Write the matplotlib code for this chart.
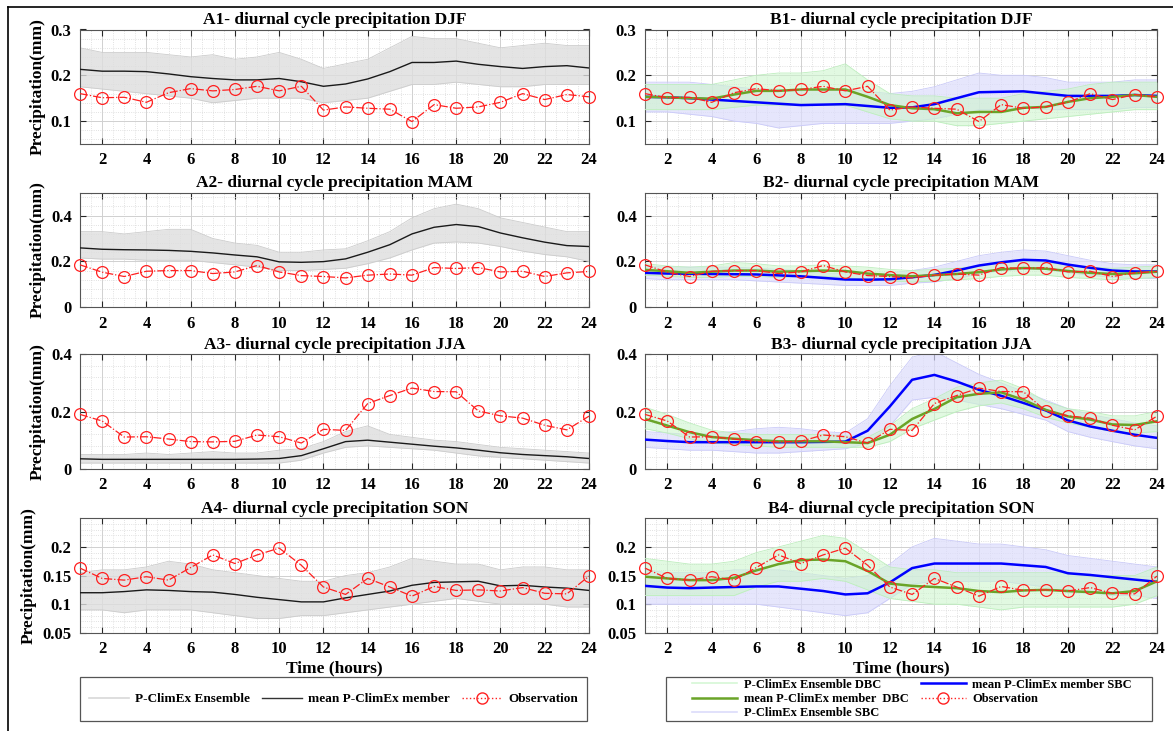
import numpy as np
import matplotlib
matplotlib.use("Agg")
import matplotlib.pyplot as plt
from matplotlib.lines import Line2D
from matplotlib.patches import Rectangle
from matplotlib.ticker import AutoMinorLocator, FuncFormatter

hours = list(range(1, 25))
seasons = ["DJF", "MAM", "JJA", "SON"]

# observation (same in A and B panels)
obs_djf = [0.160, 0.151, 0.152, 0.141, 0.162, 0.171, 0.166, 0.169, 0.176, 0.166, 0.176, 0.124,
           0.131, 0.128, 0.126, 0.099, 0.136, 0.128, 0.131, 0.141, 0.160, 0.147, 0.158, 0.153]
obs_mam = [0.185, 0.153, 0.134, 0.157, 0.160, 0.160, 0.147, 0.154, 0.182, 0.154, 0.138, 0.134,
           0.128, 0.140, 0.145, 0.140, 0.173, 0.169, 0.173, 0.154, 0.157, 0.134, 0.150, 0.156]
obs_jja = [0.190, 0.167, 0.111, 0.112, 0.104, 0.095, 0.094, 0.096, 0.118, 0.112, 0.090, 0.138,
           0.134, 0.228, 0.256, 0.282, 0.270, 0.269, 0.202, 0.185, 0.177, 0.152, 0.136, 0.184]
obs_son = [0.163, 0.145, 0.142, 0.148, 0.142, 0.164, 0.186, 0.171, 0.186, 0.198, 0.168, 0.130,
           0.117, 0.145, 0.130, 0.114, 0.131, 0.124, 0.125, 0.123, 0.129, 0.119, 0.118, 0.149]

# raw ensemble mean (A panels)
mean_djf = [0.213, 0.209, 0.209, 0.208, 0.203, 0.197, 0.193, 0.190, 0.190, 0.193, 0.186, 0.176,
            0.181, 0.192, 0.208, 0.228, 0.228, 0.231, 0.224, 0.219, 0.215, 0.219, 0.221, 0.216]
mean_mam = [0.259, 0.253, 0.251, 0.250, 0.248, 0.244, 0.237, 0.228, 0.220, 0.198, 0.196, 0.199,
            0.211, 0.240, 0.273, 0.320, 0.349, 0.361, 0.352, 0.324, 0.303, 0.284, 0.269, 0.265]
mean_jja = [0.035, 0.033, 0.033, 0.033, 0.033, 0.033, 0.033, 0.033, 0.034, 0.036, 0.046, 0.070,
            0.095, 0.100, 0.093, 0.086, 0.079, 0.073, 0.065, 0.056, 0.050, 0.046, 0.042, 0.036]
mean_son = [0.120, 0.120, 0.122, 0.125, 0.124, 0.122, 0.121, 0.117, 0.112, 0.108, 0.104, 0.104,
            0.111, 0.117, 0.123, 0.133, 0.138, 0.139, 0.140, 0.132, 0.133, 0.130, 0.128, 0.124]

# raw ensemble spread (A panels)
ens_lo_djf = [0.175, 0.170, 0.165, 0.160, 0.155, 0.150, 0.140, 0.145, 0.150, 0.150, 0.150, 0.140,
              0.145, 0.150, 0.165, 0.180, 0.180, 0.185, 0.180, 0.175, 0.175, 0.180, 0.180, 0.180]
ens_hi_djf = [0.260, 0.250, 0.250, 0.250, 0.245, 0.240, 0.245, 0.235, 0.240, 0.250, 0.235, 0.215,
              0.225, 0.235, 0.260, 0.285, 0.280, 0.280, 0.270, 0.260, 0.265, 0.270, 0.265, 0.265]
ens_lo_mam = [0.215, 0.210, 0.210, 0.205, 0.205, 0.205, 0.195, 0.185, 0.175, 0.160, 0.160, 0.165,
              0.170, 0.190, 0.215, 0.250, 0.280, 0.285, 0.280, 0.265, 0.245, 0.230, 0.220, 0.200]
ens_hi_mam = [0.330, 0.330, 0.320, 0.330, 0.340, 0.340, 0.300, 0.280, 0.270, 0.240, 0.240, 0.250,
              0.255, 0.290, 0.330, 0.390, 0.430, 0.450, 0.430, 0.390, 0.370, 0.350, 0.330, 0.330]
ens_lo_jja = [0.020, 0.020, 0.020, 0.020, 0.020, 0.020, 0.020, 0.020, 0.020, 0.020, 0.030, 0.055,
              0.075, 0.080, 0.075, 0.070, 0.065, 0.055, 0.045, 0.040, 0.035, 0.030, 0.025, 0.020]
ens_hi_jja = [0.050, 0.050, 0.050, 0.055, 0.050, 0.055, 0.060, 0.055, 0.055, 0.065, 0.070, 0.095,
              0.130, 0.150, 0.120, 0.110, 0.100, 0.095, 0.085, 0.075, 0.070, 0.065, 0.060, 0.055]
ens_lo_son = [0.090, 0.090, 0.085, 0.090, 0.090, 0.090, 0.085, 0.080, 0.075, 0.075, 0.080, 0.080,
              0.085, 0.090, 0.095, 0.100, 0.105, 0.110, 0.105, 0.100, 0.100, 0.100, 0.095, 0.095]
ens_hi_son = [0.155, 0.160, 0.160, 0.165, 0.175, 0.170, 0.160, 0.155, 0.150, 0.145, 0.140, 0.140,
              0.150, 0.155, 0.165, 0.180, 0.175, 0.170, 0.170, 0.160, 0.165, 0.165, 0.160, 0.160]

# DBC mean / spread (B panels, green)
dbc_djf = [0.153, 0.152, 0.150, 0.149, 0.158, 0.166, 0.166, 0.169, 0.169, 0.169, 0.153, 0.135,
           0.128, 0.126, 0.117, 0.120, 0.120, 0.129, 0.131, 0.142, 0.150, 0.153, 0.157, 0.153]
dbc_mam = [0.163, 0.157, 0.150, 0.155, 0.160, 0.160, 0.155, 0.157, 0.160, 0.158, 0.147, 0.140,
           0.135, 0.140, 0.145, 0.153, 0.165, 0.171, 0.168, 0.158, 0.150, 0.145, 0.148, 0.155]
dbc_jja = [0.174, 0.151, 0.128, 0.111, 0.105, 0.100, 0.096, 0.096, 0.096, 0.093, 0.090, 0.119,
           0.174, 0.209, 0.250, 0.262, 0.267, 0.241, 0.206, 0.183, 0.172, 0.155, 0.153, 0.166]
dbc_son = [0.148, 0.145, 0.142, 0.142, 0.146, 0.159, 0.170, 0.177, 0.178, 0.175, 0.158, 0.136,
           0.132, 0.130, 0.128, 0.123, 0.121, 0.124, 0.125, 0.123, 0.121, 0.119, 0.123, 0.140]
dbc_lo_djf = [0.125, 0.125, 0.125, 0.125, 0.130, 0.135, 0.135, 0.135, 0.135, 0.135, 0.120, 0.105,
              0.100, 0.100, 0.090, 0.090, 0.095, 0.100, 0.105, 0.110, 0.115, 0.120, 0.125, 0.125]
dbc_hi_djf = [0.180, 0.180, 0.180, 0.180, 0.190, 0.200, 0.205, 0.205, 0.210, 0.225, 0.190, 0.160,
              0.155, 0.155, 0.150, 0.150, 0.150, 0.160, 0.165, 0.170, 0.180, 0.185, 0.185, 0.185]
dbc_lo_mam = [0.140, 0.135, 0.130, 0.130, 0.135, 0.135, 0.130, 0.135, 0.135, 0.130, 0.120, 0.115,
              0.110, 0.115, 0.120, 0.125, 0.135, 0.140, 0.140, 0.130, 0.125, 0.120, 0.125, 0.130]
dbc_hi_mam = [0.190, 0.180, 0.175, 0.180, 0.195, 0.190, 0.180, 0.180, 0.185, 0.180, 0.175, 0.165,
              0.160, 0.165, 0.170, 0.180, 0.195, 0.200, 0.195, 0.185, 0.175, 0.170, 0.175, 0.180]
dbc_lo_jja = [0.140, 0.125, 0.105, 0.090, 0.085, 0.080, 0.075, 0.075, 0.075, 0.075, 0.075, 0.095,
              0.140, 0.170, 0.200, 0.220, 0.230, 0.210, 0.180, 0.160, 0.145, 0.130, 0.125, 0.130]
dbc_hi_jja = [0.215, 0.190, 0.160, 0.135, 0.125, 0.120, 0.120, 0.120, 0.120, 0.115, 0.110, 0.150,
              0.210, 0.245, 0.285, 0.300, 0.310, 0.280, 0.235, 0.210, 0.200, 0.185, 0.185, 0.200]
dbc_lo_son = [0.115, 0.115, 0.115, 0.115, 0.115, 0.130, 0.140, 0.140, 0.145, 0.140, 0.125, 0.110,
              0.105, 0.100, 0.100, 0.095, 0.090, 0.095, 0.095, 0.095, 0.095, 0.095, 0.100, 0.115]
dbc_hi_son = [0.180, 0.175, 0.170, 0.170, 0.175, 0.190, 0.200, 0.210, 0.220, 0.215, 0.190, 0.165,
              0.160, 0.160, 0.155, 0.155, 0.155, 0.155, 0.155, 0.155, 0.150, 0.150, 0.150, 0.165]

# SBC mean / spread (B panels, blue)
sbc_djf = [0.153, 0.152, 0.150, 0.147, 0.144, 0.141, 0.138, 0.135, 0.136, 0.137, 0.133, 0.129,
           0.130, 0.137, 0.150, 0.163, 0.164, 0.165, 0.160, 0.155, 0.155, 0.155, 0.157, 0.155]
sbc_mam = [0.150, 0.147, 0.146, 0.145, 0.144, 0.143, 0.139, 0.135, 0.128, 0.121, 0.120, 0.122,
           0.131, 0.141, 0.160, 0.182, 0.196, 0.207, 0.204, 0.186, 0.172, 0.160, 0.156, 0.156]
sbc_jja = [0.102, 0.097, 0.093, 0.093, 0.093, 0.093, 0.093, 0.093, 0.094, 0.095, 0.133, 0.218,
           0.311, 0.328, 0.305, 0.276, 0.255, 0.230, 0.204, 0.169, 0.148, 0.133, 0.119, 0.108]
sbc_son = [0.132, 0.129, 0.128, 0.129, 0.130, 0.131, 0.131, 0.127, 0.123, 0.117, 0.119, 0.138,
           0.163, 0.171, 0.171, 0.171, 0.171, 0.168, 0.165, 0.154, 0.151, 0.147, 0.143, 0.139]
sbc_lo_djf = [0.120, 0.120, 0.115, 0.110, 0.100, 0.095, 0.085, 0.090, 0.095, 0.095, 0.095, 0.095,
              0.100, 0.105, 0.115, 0.125, 0.125, 0.130, 0.125, 0.125, 0.125, 0.125, 0.130, 0.130]
sbc_hi_djf = [0.185, 0.185, 0.185, 0.180, 0.175, 0.170, 0.170, 0.165, 0.170, 0.170, 0.165, 0.160,
              0.165, 0.175, 0.190, 0.205, 0.200, 0.200, 0.195, 0.185, 0.185, 0.185, 0.190, 0.190]
sbc_lo_mam = [0.125, 0.120, 0.120, 0.120, 0.120, 0.115, 0.110, 0.105, 0.100, 0.095, 0.095, 0.095,
              0.105, 0.110, 0.125, 0.145, 0.160, 0.165, 0.165, 0.150, 0.140, 0.130, 0.125, 0.125]
sbc_hi_mam = [0.180, 0.175, 0.175, 0.175, 0.175, 0.170, 0.165, 0.160, 0.150, 0.145, 0.145, 0.150,
              0.160, 0.175, 0.200, 0.225, 0.240, 0.250, 0.245, 0.225, 0.205, 0.190, 0.185, 0.185]
sbc_lo_jja = [0.075, 0.070, 0.065, 0.065, 0.060, 0.055, 0.055, 0.060, 0.065, 0.070, 0.090, 0.150,
              0.240, 0.250, 0.240, 0.225, 0.210, 0.190, 0.170, 0.130, 0.110, 0.095, 0.080, 0.070]
sbc_hi_jja = [0.130, 0.125, 0.120, 0.125, 0.130, 0.140, 0.145, 0.140, 0.130, 0.125, 0.175, 0.290,
              0.390, 0.410, 0.370, 0.330, 0.300, 0.270, 0.240, 0.210, 0.190, 0.175, 0.160, 0.150]
sbc_lo_son = [0.100, 0.100, 0.100, 0.100, 0.100, 0.100, 0.095, 0.090, 0.085, 0.080, 0.085, 0.110,
              0.135, 0.140, 0.140, 0.140, 0.140, 0.135, 0.130, 0.120, 0.120, 0.115, 0.115, 0.110]
sbc_hi_son = [0.160, 0.155, 0.155, 0.155, 0.160, 0.160, 0.160, 0.155, 0.150, 0.145, 0.150, 0.170,
              0.200, 0.215, 0.210, 0.205, 0.205, 0.200, 0.195, 0.185, 0.180, 0.175, 0.170, 0.165]

ylims = [(0.05, 0.3), (0, 0.5), (0, 0.4), (0.05, 0.25)]
yticks = [[0.1, 0.2, 0.3], [0, 0.2, 0.4], [0, 0.2, 0.4], [0.05, 0.1, 0.15, 0.2]]

obs_all = [obs_djf, obs_mam, obs_jja, obs_son]
mean_all = [mean_djf, mean_mam, mean_jja, mean_son]
ens_lo = [ens_lo_djf, ens_lo_mam, ens_lo_jja, ens_lo_son]
ens_hi = [ens_hi_djf, ens_hi_mam, ens_hi_jja, ens_hi_son]
dbc_all = [dbc_djf, dbc_mam, dbc_jja, dbc_son]
dbc_lo = [dbc_lo_djf, dbc_lo_mam, dbc_lo_jja, dbc_lo_son]
dbc_hi = [dbc_hi_djf, dbc_hi_mam, dbc_hi_jja, dbc_hi_son]
sbc_all = [sbc_djf, sbc_mam, sbc_jja, sbc_son]
sbc_lo = [sbc_lo_djf, sbc_lo_mam, sbc_lo_jja, sbc_lo_son]
sbc_hi = [sbc_hi_djf, sbc_hi_mam, sbc_hi_jja, sbc_hi_son]

plt.rcParams["font.family"] = ["Liberation Serif", "DejaVu Serif"]
plt.rcParams["font.weight"] = "bold"

W, H = 1173, 731
fig = plt.figure(figsize=(W / 100, H / 100), dpi=100)

GRAY = "#dedede"
GREEN_ENS = "#cdf5cd"
BLUE_ENS = "#dcdcfc"
GREEN = "#6aa428"
OBS = "#ff2020"

tops = [29.5, 192.7, 354.3, 518.3]
ph = 114.5


def style_axis(ax, i):
    ax.set_xlim(1, 24)
    ax.set_ylim(*ylims[i])
    ax.set_xticks(range(2, 25, 2))
    ax.set_yticks(yticks[i])
    ax.yaxis.set_major_formatter(FuncFormatter(lambda v, p: f"{v:g}"))
    ax.xaxis.set_minor_locator(AutoMinorLocator(4))
    ax.yaxis.set_minor_locator(AutoMinorLocator(5))
    ax.grid(which="major", color="#d0d0d0", lw=0.7)
    ax.grid(which="minor", color="#d8d8d8", lw=0.6, ls=":")
    ax.set_axisbelow(True)
    ax.tick_params(which="both", direction="in", top=True, right=True, labelsize=12,
                   colors="#262626", labelcolor="black", pad=6)
    ax.tick_params(which="major", length=4)
    ax.tick_params(which="minor", length=0)
    for s in ax.spines.values():
        s.set_color("#555555")
        s.set_linewidth(0.8)
    for lab in ax.get_xticklabels() + ax.get_yticklabels():
        lab.set_fontweight("bold")


def obs_line(ax, i):
    ax.plot(hours, obs_all[i], color=OBS, ls="-.", lw=0.9, marker="o", ms=8.5,
            mfc="none", mec=OBS, mew=0.9, clip_on=False, zorder=6)


for i, season in enumerate(seasons):
    bottom = 1 - (tops[i] + ph) / H

    # left column: raw ensemble
    ax = fig.add_axes([80 / W, bottom, 509 / W, ph / H])
    ax.fill_between(hours, ens_lo[i], ens_hi[i], color=GRAY, alpha=0.8, lw=0, zorder=2)
    ax.plot(hours, ens_lo[i], color="#cccccc", lw=0.6, zorder=2)
    ax.plot(hours, ens_hi[i], color="#cccccc", lw=0.6, zorder=2)
    ax.plot(hours, mean_all[i], color="#1a1a1a", lw=1.0, zorder=4)
    obs_line(ax, i)
    style_axis(ax, i)
    ax.set_title(f"A{i + 1}- diurnal cycle precipitation {season}", fontsize=12.5,
                 fontweight="bold", pad=4)
    ax.set_ylabel("Precipitation(mm)", fontsize=12.5, fontweight="bold", labelpad=4)
    if i == 3:
        ax.set_xlabel("Time (hours)", fontsize=12.5, fontweight="bold", labelpad=2)

    # right column: bias corrected ensembles
    bx = fig.add_axes([645 / W, bottom, 512 / W, ph / H])
    bx.fill_between(hours, sbc_lo[i], sbc_hi[i], color=BLUE_ENS, alpha=0.7, lw=0, zorder=2)
    bx.plot(hours, sbc_lo[i], color="#cacaf8", lw=0.6, zorder=2)
    bx.plot(hours, sbc_hi[i], color="#cacaf8", lw=0.6, zorder=2)
    bx.fill_between(hours, dbc_lo[i], dbc_hi[i], color=GREEN_ENS, alpha=0.6, lw=0, zorder=3)
    bx.plot(hours, dbc_lo[i], color="#bdeebd", lw=0.6, zorder=3)
    bx.plot(hours, dbc_hi[i], color="#bdeebd", lw=0.6, zorder=3)
    bx.plot(hours, sbc_all[i], color="blue", lw=1.8, zorder=4)
    bx.plot(hours, dbc_all[i], color=GREEN, lw=1.8, zorder=5)
    obs_line(bx, i)
    style_axis(bx, i)
    bx.set_title(f"B{i + 1}- diurnal cycle precipitation {season}", fontsize=12.5,
                 fontweight="bold", pad=4)
    if i == 3:
        bx.set_xlabel("Time (hours)", fontsize=12.5, fontweight="bold", labelpad=2)

# legend boxes
for x0, x1 in [(80, 587), (666, 1152)]:
    fig.add_artist(Rectangle((x0 / W, 1 - 721 / H), (x1 - x0) / W, 44 / H,
                             transform=fig.transFigure, fill=False, ec="#555555", lw=0.9))

obs_handle = Line2D([], [], color=OBS, ls=":", lw=1.0, marker="o", ms=8, mfc="none", mec=OBS)
left_handles = [Line2D([], [], color="#d8d8d8", lw=1.2),
                Line2D([], [], color="#333333", lw=1.0),
                obs_handle]
left_labels = ["P-ClimEx Ensemble", "mean P-ClimEx member", "Observation"]
fig.legend(left_handles, left_labels, loc="center", bbox_to_anchor=(333.5 / W, 1 - 699 / H),
           ncol=3, frameon=False, handlelength=3.0, columnspacing=0.9,
           handletextpad=0.5, prop={"weight": "bold", "size": 9.5})

right_handles = [Line2D([], [], color="#d6f7d6", lw=1.2),
                 Line2D([], [], color=GREEN, lw=1.8),
                 Line2D([], [], color="#dcdcfb", lw=1.2),
                 Line2D([], [], color="blue", lw=1.8),
                 obs_handle]
right_labels = ["P-ClimEx Ensemble DBC", "mean P-ClimEx member  DBC", "P-ClimEx Ensemble SBC",
                "mean P-ClimEx member SBC", "Observation"]
fig.legend(right_handles, right_labels, loc="center", bbox_to_anchor=(912 / W, 1 - 699 / H),
           ncol=2, frameon=False, handlelength=3.6, columnspacing=1.0, handletextpad=0.5,
           labelspacing=0.2, prop={"weight": "bold", "size": 9})

# outer frame (left and top edges)
fig.add_artist(Line2D([8 / W, 8 / W], [0, 1 - 7 / H], transform=fig.transFigure,
                      color="black", lw=1.2))
fig.add_artist(Line2D([8 / W, 1], [1 - 7 / H, 1 - 7 / H], transform=fig.transFigure,
                      color="black", lw=1.2))

fig.savefig("out.png", dpi=100)
